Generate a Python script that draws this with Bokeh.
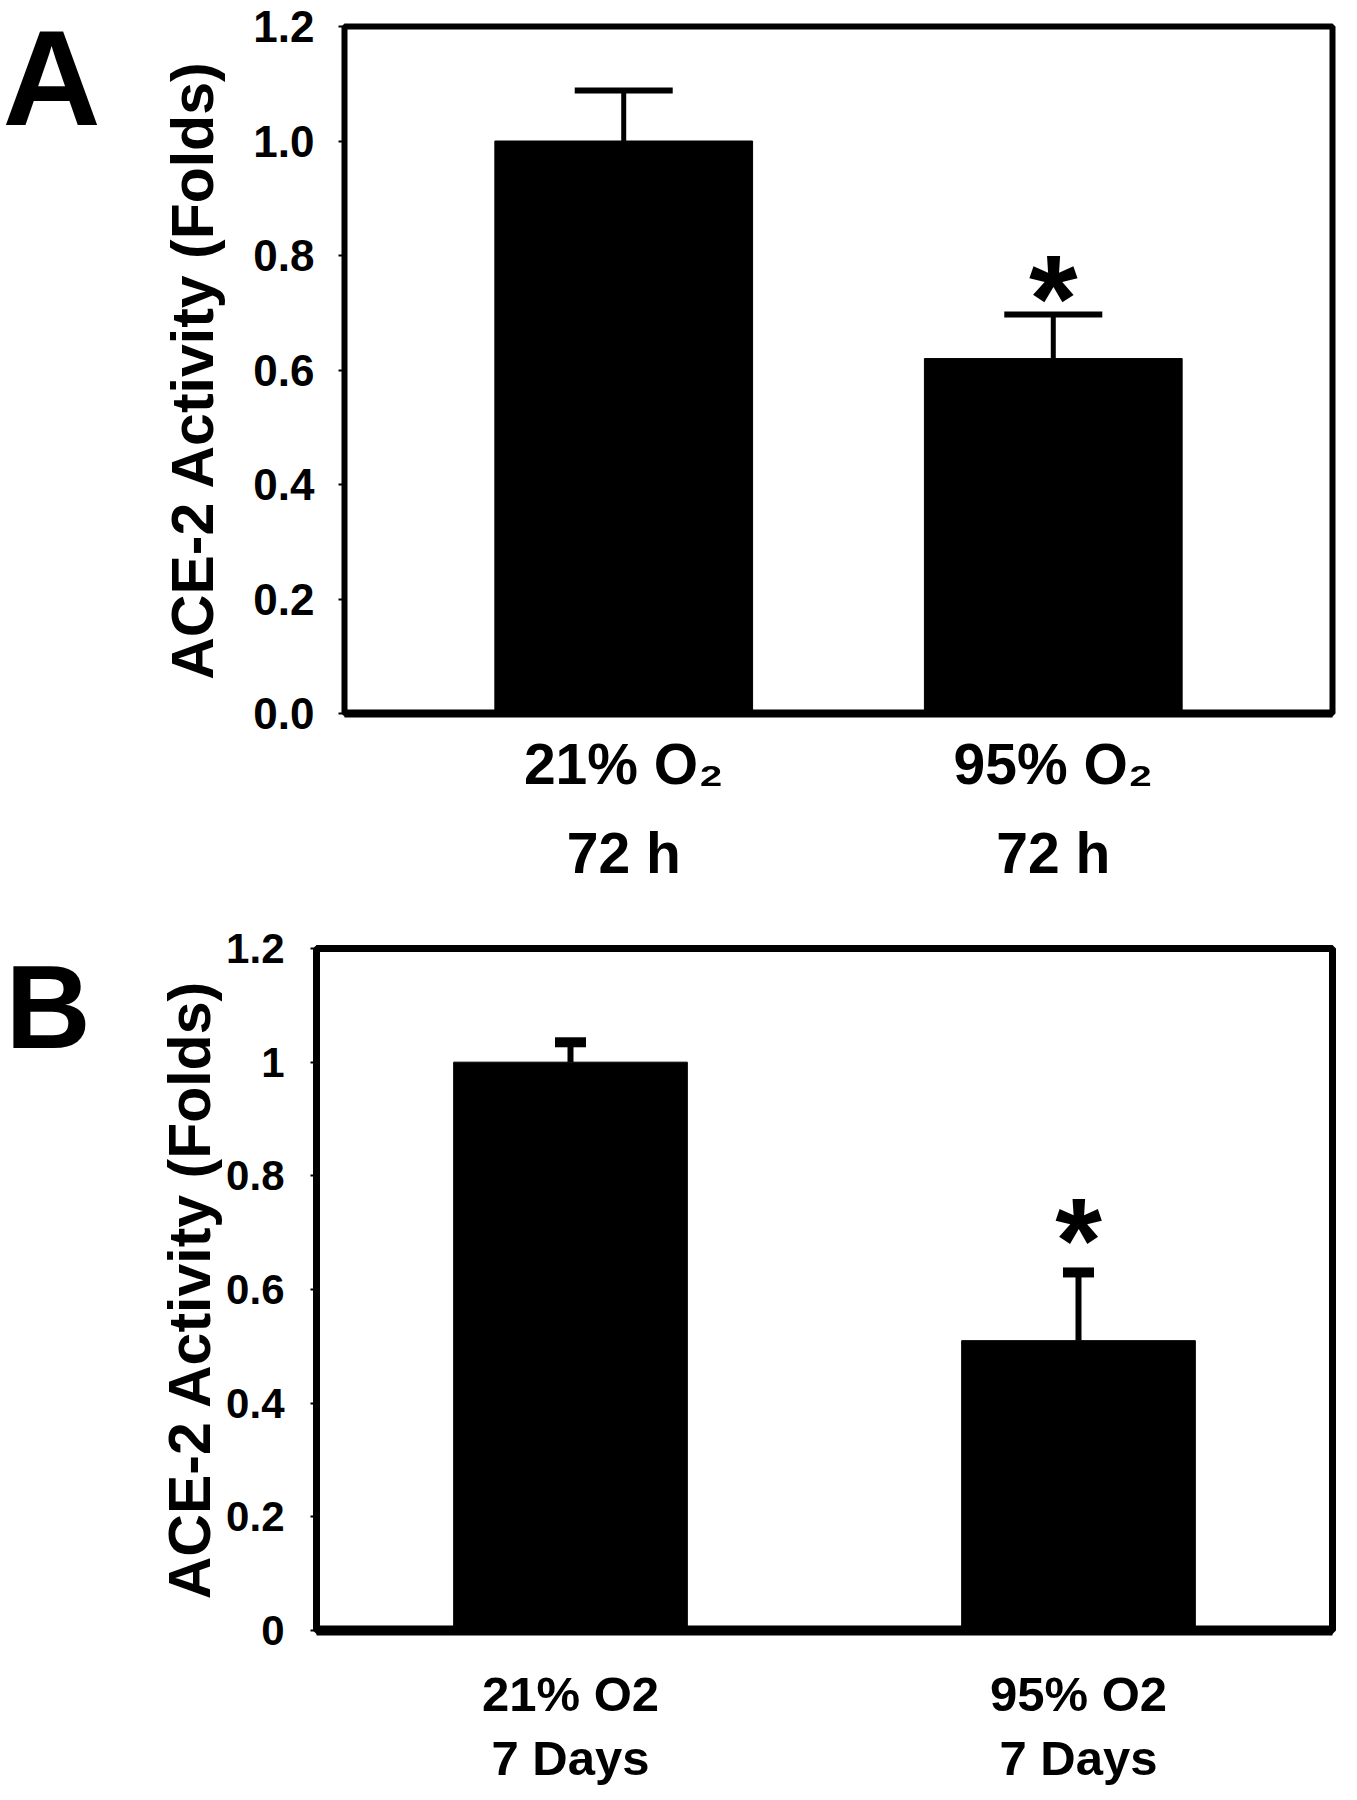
from bokeh.plotting import figure
from bokeh.models import FactorRange, Range1d, Whisker, TeeHead, ColumnDataSource, FixedTicker, PrintfTickFormatter
from bokeh.layouts import column, row
from bokeh.embed import file_html
from bokeh.resources import INLINE
from bokeh.core.properties import value

# ---------------- data ----------------
a_categories = ["21% O\u2082\n72 h", "95% O\u2082\n72 h"]
a_means = [1.00, 0.62]
a_errors = [0.088, 0.077]
a_sig = ["", "*"]
a_yticks = [0.0, 0.2, 0.4, 0.6, 0.8, 1.0, 1.2]

b_categories = ["21% O2\n7 Days", "95% O2\n7 Days"]
b_means = [1.00, 0.51]
b_errors = [0.035, 0.12]
b_sig = ["", "*"]
b_yticks = [0, 0.2, 0.4, 0.6, 0.8, 1, 1.2]
b_ytick_labels = ["0", "0.2", "0.4", "0.6", "0.8", "1", "1.2"]

panel_letters = ["A", "B"]

FONT = "Liberation Sans"
YLABEL = "ACE-2 Activity (Folds)"
TOTAL_W = 1350
LETTER_W = 120


def letter_fig(letter, height, top, bottom, x, s_from_top, size):
    frame_h = height - top - bottom
    f = figure(width=LETTER_W, height=height, x_range=Range1d(0, LETTER_W),
               y_range=Range1d(0, frame_h), output_backend="svg", toolbar_location=None,
               x_axis_type=None, y_axis_type=None,
               min_border_left=0, min_border_right=0,
               min_border_top=top, min_border_bottom=bottom)
    f.outline_line_color = None
    f.xgrid.grid_line_color = None
    f.ygrid.grid_line_color = None
    src = ColumnDataSource(dict(x=[x], y=[(height - bottom) - s_from_top], t=[letter]))
    f.text(x="x", y="y", text="t", source=src, text_font=value(FONT),
           text_font_style="bold", text_font_size=size, text_color="black",
           text_align="left", text_baseline="alphabetic")
    return f


def make_panel(cats, means, errs, sig, height, pad, borders, bar_width,
               cap_size, cap_w, stem_w, outline_w, xline_w,
               tick_font, x_font, x_lh, x_standoff,
               ylab_standoff, ytick_standoff, star_size, star_offset):
    left, right, top, bottom = borders
    p = figure(width=TOTAL_W - LETTER_W, height=height,
               x_range=FactorRange(*cats, range_padding=pad),
               y_range=Range1d(0, 1.2),
               output_backend="svg", toolbar_location=None,
               min_border_left=left, min_border_right=right,
               min_border_top=top, min_border_bottom=bottom)
    p.xgrid.grid_line_color = None
    p.ygrid.grid_line_color = None
    p.outline_line_color = "black"
    p.outline_line_width = outline_w
    p.outline_line_alpha = 1.0

    up = [m + e for m, e in zip(means, errs)]
    src = ColumnDataSource(dict(x=cats, top=means, upper=up, lower=means, sig=sig))
    p.vbar(x="x", top="top", width=bar_width, source=src,
           fill_color="black", line_color="black")
    w = Whisker(base="x", upper="upper", lower="lower", source=src, dimension="height",
                line_color="black", line_width=stem_w,
                upper_head=TeeHead(size=cap_size, line_width=cap_w, line_color="black"),
                lower_head=None)
    p.add_layout(w)
    p.text(x="x", y="upper", text="sig", source=src, text_align="center",
           text_baseline="alphabetic", text_font=value(FONT), text_font_style="bold",
           text_font_size=star_size, text_color="black", y_offset=star_offset)

    xa = p.xaxis[0]
    xa.axis_line_color = "black"
    xa.axis_line_width = xline_w
    xa.major_tick_line_color = None
    xa.minor_tick_line_color = None
    xa.major_label_text_font = FONT
    xa.major_label_text_font_size = x_font
    xa.major_label_text_font_style = "bold"
    xa.major_label_text_color = "black"
    xa.major_label_text_line_height = x_lh
    xa.major_label_standoff = x_standoff

    ya = p.yaxis[0]
    ya.axis_line_color = None
    ya.major_tick_in = 0
    ya.major_tick_out = 6
    ya.major_tick_line_width = 2
    ya.major_tick_line_color = "black"
    ya.minor_tick_line_color = None
    ya.major_label_text_font = FONT
    ya.major_label_text_font_size = tick_font
    ya.major_label_text_font_style = "bold"
    ya.major_label_text_color = "black"
    ya.major_label_standoff = ytick_standoff
    ya.axis_label = YLABEL
    ya.axis_label_text_font = FONT
    ya.axis_label_text_font_size = "59px"
    ya.axis_label_text_font_style = "bold"
    ya.axis_label_text_color = "black"
    ya.axis_label_standoff = ylab_standoff
    return p


HA, HB = 905, 890
A_TOP, A_BOTTOM = 26, HA - 713
B_TOP, B_BOTTOM = 948 - HA, HB - (1630 - HA)

pA = make_panel(a_categories, a_means, a_errors, a_sig, height=HA, pad=0.15,
                borders=(344 - LETTER_W, TOTAL_W - 1332, A_TOP, A_BOTTOM), bar_width=0.60,
                cap_size=98, cap_w=6, stem_w=5, outline_w=6, xline_w=8,
                tick_font="44px", x_font="57px", x_lh=1.4, x_standoff=12,
                ylab_standoff=24, ytick_standoff=24, star_size="125px", star_offset=-16)
pA.yaxis[0].ticker = FixedTicker(ticks=a_yticks)
pA.yaxis[0].formatter = PrintfTickFormatter(format="%.1f")

pB = make_panel(b_categories, b_means, b_errors, b_sig, height=HB, pad=0.0,
                borders=(316 - LETTER_W, TOTAL_W - 1332, B_TOP, B_BOTTOM), bar_width=0.46,
                cap_size=31, cap_w=10, stem_w=6, outline_w=7, xline_w=10,
                tick_font="42px", x_font="49px", x_lh=1.2, x_standoff=30,
                ylab_standoff=0, ytick_standoff=26, star_size="120px", star_offset=-32)
pB.yaxis[0].ticker = FixedTicker(ticks=b_yticks)
pB.yaxis[0].major_label_overrides = dict(zip(b_yticks, b_ytick_labels))

lA = letter_fig(panel_letters[0], HA, A_TOP, A_BOTTOM, 2, 77, "136px")
lB = letter_fig(panel_letters[1], HB, B_TOP, B_BOTTOM, 5, 101, "118px")

layout = column(row(lA, pA), row(lB, pB))
open("out.html", "w").write(file_html(layout, INLINE))
